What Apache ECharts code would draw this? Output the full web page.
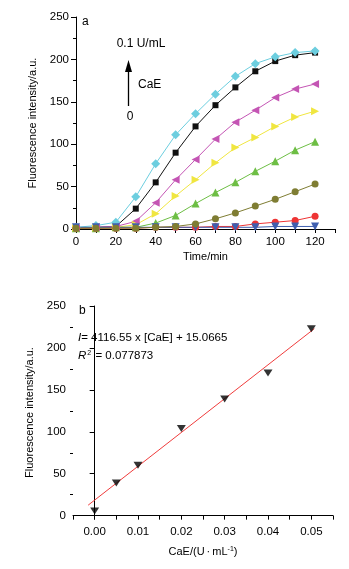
<!DOCTYPE html>
<html>
<head>
<meta charset="utf-8">
<style>
  html, body { margin: 0; padding: 0; background: #fff; }
  .chart { width: 349px; height: 569px; }
</style>
<script src="https://cdn.jsdelivr.net/npm/echarts@6/dist/echarts.min.js"></script>
</head>
<body>
<div class="chart"></div>
<script>
// * 上图 a：不同 CaE 浓度下荧光强度随时间变化
const timeMin = [0, 10, 20, 30, 40, 50, 60, 70, 80, 90, 100, 110, 120]
const cyanData = [2, 4, 8, 38, 77, 111, 136, 159, 180, 195, 203, 208, 210]
const blackData = [0, 2, 3, 24, 55, 90, 121, 146, 167, 186, 198, 205, 208]
const magentaData = [1, 2, 3, 9, 31, 58, 82, 106, 126, 140, 155, 165, 171]
const yellowData = [1, 1, 2, 5, 18, 39, 58, 78, 96, 108, 121, 132, 139]
const greenData = [1, 1, 2, 2, 7, 16, 30, 43, 55, 68, 80, 93, 103]
const oliveData = [1, 1, 1, 1, 2, 3, 6, 12, 19, 27, 35, 44, 53]
const redData = [1, 1, 1, 1, 2, 2, 2, 3, 3, 6, 8, 10, 15]
const blueData = [2, 2, 2, 2, 2, 2, 2, 2, 2, 2, 3, 3, 3]

// * 下图 b：标准曲线
const caeConc = [0.00, 0.005, 0.01, 0.02, 0.03, 0.04, 0.05]
const caeIntensity = [5.5, 39, 60, 104, 139, 170, 223]
// 拟合直线的两个端点
const fitX = [-0.0015, 0.0507]
const fitY = [12.5, 223]

// 刻度
const yTicksMajor = [0, 50, 100, 150, 200, 250]
const yTicksMinor = [25, 75, 125, 175, 225]

const FONT = 'Liberation Sans, Arial, sans-serif'

const chart = echarts.init(document.querySelector('.chart'))

const zip = (xs, ys) => xs.map((x, i) => [x, ys[i]])

// 折线系列的公共写法
function curve(name, data, color, symbol, size, rotate) {
  return {
    name: name,
    type: 'line',
    xAxisIndex: 0,
    yAxisIndex: 0,
    data: zip(timeMin, data),
    symbol: symbol,
    symbolSize: size,
    symbolRotate: rotate || 0,
    lineStyle: { color: color, width: 1 },
    itemStyle: { color: color },
    animation: false
  }
}

const axisLine = { lineStyle: { color: '#000', width: 1 } }
const labelStyle = { color: '#000', fontSize: 11.5, fontFamily: FONT, margin: 7 }
const nameStyle = { color: '#000', fontSize: 11, fontFamily: FONT }

const option = {
  backgroundColor: '#fff',
  animation: false,
  grid: [
    { left: 76, right: 14, top: 17, height: 212 },
    { left: 73, right: 16, top: 306, height: 213 }
  ],
  xAxis: [
    {
      gridIndex: 0,
      type: 'value',
      min: 0,
      max: 130,
      interval: 10,
      name: 'Time/min',
      nameLocation: 'middle',
      nameGap: 22,
      nameTextStyle: nameStyle,
      axisLine: axisLine,
      axisTick: { length: 4, lineStyle: { color: '#000' } },
      axisLabel: Object.assign({}, labelStyle, {
        formatter: v => (v % 20 === 0 && v <= 120 ? String(v) : '')
      }),
      splitLine: { show: false }
    },
    {
      gridIndex: 1,
      type: 'value',
      min: -0.005,
      max: 0.055,
      interval: 0.005,
      name: 'CaE/(U{dot|·}mL{sup|-1})',
      nameLocation: 'middle',
      nameGap: 27,
      nameTextStyle: Object.assign({}, nameStyle, {
        rich: {
          dot: { fontSize: 11, fontFamily: FONT, color: '#000', padding: [0, 2] },
          sup: { fontSize: 7, fontFamily: FONT, color: '#000', verticalAlign: 'top' }
        }
      }),
      axisLine: axisLine,
      axisTick: { length: 4, lineStyle: { color: '#000' } },
      axisLabel: Object.assign({}, labelStyle, {
        formatter: v => {
          const k = Math.round(v * 1000)
          return k >= 0 && k <= 50 && k % 10 === 0 ? (k / 1000).toFixed(2) : ''
        }
      }),
      splitLine: { show: false }
    }
  ],
  yAxis: [
    {
      gridIndex: 0,
      type: 'value',
      min: 0,
      max: 250,
      interval: 50,
      name: 'Fluorescence intensity/a.u.',
      nameLocation: 'middle',
      nameGap: 37,
      nameTextStyle: nameStyle,
      axisLine: axisLine,
      axisTick: { length: 5, lineStyle: { color: '#000' } },
      minorTick: { show: true, splitNumber: 2, length: 3, lineStyle: { color: '#000' } },
      axisLabel: labelStyle,
      splitLine: { show: false }
    },
    {
      gridIndex: 1,
      type: 'value',
      position: 'left',
      min: -4,
      max: 250,
      name: 'Fluorescence intensity/a.u.',
      nameLocation: 'middle',
      nameGap: 34,
      nameTextStyle: nameStyle,
      axisLine: axisLine,
      axisTick: { length: 5, customValues: yTicksMajor, lineStyle: { color: '#000' } },
      axisLabel: Object.assign({}, labelStyle, { customValues: yTicksMajor }),
      splitLine: { show: false }
    },
    {
      // ? 下图 y 轴的次刻度
      gridIndex: 1,
      type: 'value',
      position: 'left',
      offset: 0,
      min: -4,
      max: 250,
      axisLine: { show: false },
      axisTick: { length: 3, customValues: yTicksMinor, lineStyle: { color: '#000' } },
      axisLabel: { show: false },
      splitLine: { show: false }
    }
  ],
  series: [
    curve('0.1 U/mL', blackData, '#111111', 'rect', 6),
    curve('cyan', cyanData, '#6CCEDF', 'diamond', 9),
    curve('magenta', magentaData, '#C455B4', 'triangle', 8, 90),
    curve('yellow', yellowData, '#F0E640', 'triangle', 8, -90),
    curve('green', greenData, '#6DBE44', 'triangle', 8),
    curve('red', redData, '#EE3434', 'circle', 7),
    curve('blue', blueData, '#3F5FAF', 'triangle', 8, 180),
    curve('olive', oliveData, '#7F7D33', 'circle', 7),
    {
      name: 'fit',
      type: 'line',
      xAxisIndex: 1,
      yAxisIndex: 1,
      data: zip(fitX, fitY),
      showSymbol: false,
      symbol: 'none',
      lineStyle: { color: '#F03C3C', width: 1 },
      z: 2
    },
    {
      name: 'b',
      type: 'scatter',
      xAxisIndex: 1,
      yAxisIndex: 1,
      data: zip(caeConc, caeIntensity),
      symbol: 'triangle',
      symbolRotate: 180,
      symbolSize: [9, 7],
      itemStyle: { color: '#000' },
      z: 3
    }
  ],
  // 注释文字与箭头
  graphic: [
    { type: 'text', left: 82, top: 16, style: { text: 'a', fontSize: 12, fontFamily: FONT, fill: '#000' } },
    { type: 'text', x: 141, y: 44, style: { text: '0.1 U/mL', fontSize: 12, fontFamily: FONT, fill: '#000', align: 'center', verticalAlign: 'middle' } },
    { type: 'line', shape: { x1: 128.5, y1: 106, x2: 128.5, y2: 68 }, style: { stroke: '#000', lineWidth: 1.3 } },
    { type: 'polygon', shape: { points: [[128.5, 60], [125, 72], [132, 72]] }, style: { fill: '#000' } },
    { type: 'text', x: 138, y: 85, style: { text: 'CaE', fontSize: 12, fontFamily: FONT, fill: '#000', verticalAlign: 'middle' } },
    { type: 'text', x: 130, y: 117, style: { text: '0', fontSize: 12, fontFamily: FONT, fill: '#000', align: 'center', verticalAlign: 'middle' } },
    { type: 'text', left: 79, top: 305, style: { text: 'b', fontSize: 12, fontFamily: FONT, fill: '#000' } },
    {
      type: 'text', x: 78, y: 338,
      style: {
        text: '{i|I}= 4116.55 x [CaE] + 15.0665',
        fontSize: 11.5, fontFamily: FONT, fill: '#000', verticalAlign: 'middle',
        rich: { i: { fontStyle: 'italic', fontSize: 11.5, fontFamily: FONT } }
      }
    },
    {
      type: 'text', x: 78, y: 356,
      style: {
        text: '{i|R}{sup|2} = 0.077873',
        fontSize: 11.5, fontFamily: FONT, fill: '#000', verticalAlign: 'middle',
        rich: {
          i: { fontStyle: 'italic', fontSize: 11.5, fontFamily: FONT },
          sup: { fontSize: 7, fontFamily: FONT, verticalAlign: 'top', padding: [0, 1] }
        }
      }
    }
  ]
}

chart.setOption(option)
</script>
</body>
</html>
